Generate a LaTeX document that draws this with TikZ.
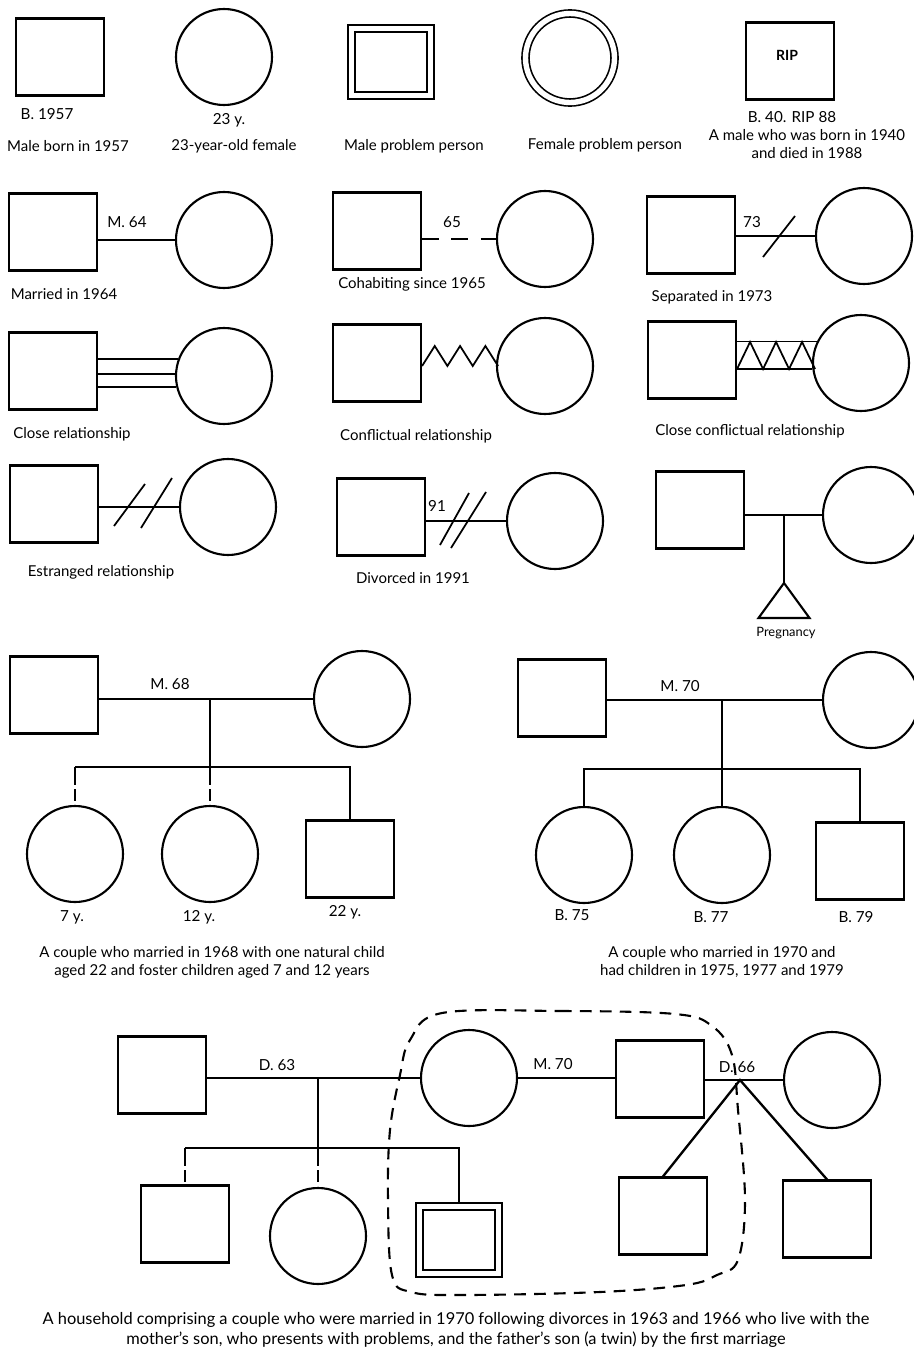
\documentclass[tikz,border=0pt]{standalone}
\usepackage{fontspec}
\setmainfont{Lato}
\usetikzlibrary{calc}

\begin{document}
\begin{tikzpicture}[x=0.03cm, y=-0.03cm,
    male/.style={draw, rectangle, line width=1.8pt, minimum width=2.64cm, minimum height=2.31cm, inner sep=0pt},
    female/.style={draw, circle, line width=1.8pt, minimum size=2.88cm, inner sep=0pt},
    probmale/.style={male, double, line width=1.4pt, double distance=4.6pt, outer sep=3.7pt, minimum width=2.37cm, minimum height=2.01cm},
    probfemale/.style={female, double, line width=1.4pt, double distance=4.6pt, outer sep=3.7pt, minimum size=2.67cm},
    rel/.style={line width=1.5pt},
    foster/.style={rel, dash pattern=on 15pt off 4pt on 10pt off 4pt},
    lbl/.style={font=\fontsize{13pt}{15pt}\selectfont, inner sep=1pt},
    captxt/.style={font=\fontsize{12.8pt}{15.3pt}\selectfont, align=center, inner sep=1pt}]

\useasboundingbox (0,0) rectangle (913,1351);

% single symbols
\node[male] (born) at (60,57) {};
\node[lbl] (bornlbl) at (47,114) {B. 1957};
\node[captxt] (borncap) at (68,146) {Male born in 1957};

\node[female] (aged) at (224,57) {};
\node[lbl] (agedlbl) at (229,120) {23 y.};
\node[captxt] (agedcap) at (234,146) {23-year-old female};

\node[probmale] (pmale) at (391,62) {};
\node[captxt] (pmalecap) at (414,146) {Male problem person};

\node[probfemale] (pfemale) at (570,58) {};
\node[captxt] (pfemalecap) at (605,145) {Female problem person};

\node[male] (rip) at (790,61) {};
\node[font=\fontsize{12pt}{13pt}\selectfont\bfseries] (riptxt) at (787,55) {RIP};
\node[lbl] (riplbl) at (792,117) {B. 40. RIP 88};
\node[captxt] (ripcap) at (807,144) {A male who was born in 1940\\and died in 1988};

% married, cohabiting, separated
\node[male] (m64) at (53,232) {};
\node[female] (w64) at (224,240) {};
\draw[rel] (m64.east |- w64.west) -- (w64.west);
\node[lbl] (m64lbl) at (127,222) {M. 64};
\node[captxt] (m64cap) at (64,294) {Married in 1964};

\node[male] (m65) at (377,231) {};
\node[female] (w65) at (545,239) {};
\draw[rel, dash pattern=on 14.5pt off 10.6pt] (m65.east |- w65.west) -- (w65.west);
\node[lbl] (m65lbl) at (452,222) {65};
\node[captxt] (m65cap) at (412,284) {Cohabiting since 1965};

\node[male] (m73) at (691,235) {};
\node[female] (w73) at (864,236) {};
\draw[rel] (m73.east |- w73.west) -- (w73.west);
\draw[rel] (763,257) -- (795,216);
\node[lbl] (m73lbl) at (752,222) {73};
\node[captxt] (m73cap) at (712,297) {Separated in 1973};

% close, conflictual
\node[male] (mclose) at (53,371) {};
\node[female] (wclose) at (224,376) {};
\foreach \a in {160,178,193}
    \draw[rel] (mclose.east |- wclose.\a) -- (wclose.\a);
\node[captxt] (mclosecap) at (72,434) {Close relationship};

\node[male] (mconf) at (377,363) {};
\node[female] (wconf) at (545,366) {};
\draw[rel] (mconf.east |- wconf.west) \foreach \i in {1,2,3} {-- ++(12.67,-20) -- ++(12.67,20)};
\node[captxt] (mconfcap) at (416,436) {Conflictual relationship};

\node[male] (mcc) at (692,360) {};
\node[female] (wcc) at (861,363) {};
\draw[rel] (mcc.east |- wcc.154) -- (wcc.154);
\draw[rel] (mcc.east |- wcc.187) -- (wcc.187);
\draw[rel] (mcc.east |- wcc.187) \foreach \i in {1,2,3} {-- ++(13,-27) -- ++(13,27)};
\node[captxt] (mcccap) at (750,431) {Close conflictual relationship};

% estranged, divorced, pregnancy
\node[male] (mest) at (54,504) {};
\node[female] (west) at (228,507) {};
\draw[rel] (mest.east |- west.west) -- (west.west);
\draw[rel] (114,526) -- (145,484);
\draw[rel] (141,528) -- (172,478);
\node[captxt] (mestcap) at (101,572) {Estranged relationship};

\node[male] (m91) at (381,517) {};
\node[female] (w91) at (555,521) {};
\draw[rel] (m91.east |- w91.west) -- (w91.west);
\draw[rel] (440,545) -- (469,493);
\draw[rel] (451,548) -- (486,492);
\node[lbl] (m91lbl) at (437,506) {91};
\node[captxt] (m91cap) at (413,578) {Divorced in 1991};

\node[male] (mpreg) at (700,510) {};
\node[female] (wpreg) at (871,515) {};
\draw[rel] (mpreg.east |- wpreg.west) -- (wpreg.west);
\coordinate (preg) at (784,583);
\draw[line width=1.8pt] (preg) -- ++(25.5,35) -- ++(-51,0) -- cycle;
\draw[rel, line width=2pt] (preg |- wpreg.west) -- (preg);
\node[font=\fontsize{11pt}{13pt}\selectfont] (preglbl) at (786,633) {Pregnancy};

% couple married 1968
\node[male] (f68) at (54,695) {};
\node[female] (m68) at (362,699) {};
\draw[rel] (f68.east |- m68.west) -- (m68.west);
\node[lbl] (f68lbl) at (170,684) {M. 68};
\coordinate (k68) at (210,767);
\node[female] (c7) at (75,854) {};
\node[female] (c12) at (210,854) {};
\node[male] (c22) at (350,859) {};
\draw[rel] (k68 |- m68.west) -- (k68);
\draw[rel] (c7.north |- k68) -- (c22.north |- k68) -- (c22.north);
\draw[foster] (c7.north |- k68) -- (c7.north);
\draw[foster] (k68) -- (c12.north);
\node[lbl] (c7lbl) at (72,917) {7 y.};
\node[lbl] (c12lbl) at (199,917) {12 y.};
\node[lbl] (c22lbl) at (345,912) {22 y.};
\node[captxt] (f68cap) at (212,962) {A couple who married in 1968 with one natural child\\aged 22 and foster children aged 7 and 12 years};

% couple married 1970
\node[male] (f70) at (562,698) {};
\node[female] (m70) at (871,700) {};
\draw[rel] (f70.east |- m70.west) -- (m70.west);
\node[lbl] (f70lbl) at (680,686) {M. 70};
\coordinate (k70) at (722,769);
\node[female] (b75) at (584,855) {};
\node[female] (b77) at (722,855) {};
\node[male] (b79) at (860,861) {};
\draw[rel] (k70 |- m70.west) -- (k70);
\draw[rel] (b75.north) -- (b75.north |- k70) -- (b79.north |- k70) -- (b79.north);
\draw[rel] (k70) -- (b77.north);
\node[lbl] (b75lbl) at (572,915) {B. 75};
\node[lbl] (b77lbl) at (711,917) {B. 77};
\node[lbl] (b79lbl) at (856,917) {B. 79};
\node[captxt] (f70cap) at (722,962) {A couple who married in 1970 and\\had children in 1975, 1977 and 1979};

% household
\node[male] (h63) at (162,1075) {};
\node[female] (mom) at (469,1078) {};
\node[male] (dad) at (660,1079) {};
\node[female] (w66) at (832,1080) {};
\draw[rel] (h63.east |- mom.west) -- (mom.west);
\draw[rel] (mom.east) -- (dad.west |- mom.east);
\draw[rel] (dad.east |- w66.west) -- (w66.west);
\node[lbl] (h63lbl) at (277,1065) {D. 63};
\node[lbl] (momlbl) at (553,1064) {M. 70};
\node[lbl] (w66lbl) at (737,1067) {D. 66};

\coordinate (k63) at (318,1148);
\node[male] (s1) at (185,1224) {};
\node[female] (s2) at (318,1236) {};
\node[probmale] (s3) at (459,1240) {};
\draw[rel] (k63 |- mom.west) -- (k63);
\draw[rel] (s1.north |- k63) -- (s3.north |- k63) -- (s3.north);
\draw[foster] (s1.north |- k63) -- (s1.north);
\draw[foster] (k63) -- (s2.north);

\coordinate (twin) at (740,1080);
\node[male] (t1) at (663,1216) {};
\node[male] (t2) at (827,1219) {};
\draw[line width=2pt] (t1.north) -- (twin) -- (t2.north);

% household boundary
\draw[line width=1.8pt, dash pattern=on 10pt off 7pt] plot[smooth cycle, tension=0.6] coordinates {
    (442,1013) (560,1011) (675,1014) (712,1026) (732,1055) (738,1110) (745,1200)
    (738,1260) (717,1275) (686,1285) (600,1292) (463,1295) (411,1292) (392,1275)
    (388,1200) (390,1130) (400,1075) (410,1040)};

\node[captxt, font=\fontsize{14pt}{17pt}\selectfont] (housecap) at (456,1330) {A household comprising a couple who were married in 1970 following divorces in 1963 and 1966 who live with the\\mother's son, who presents with problems, and the father's son (a twin) by the first marriage};
\end{tikzpicture}
\end{document}
